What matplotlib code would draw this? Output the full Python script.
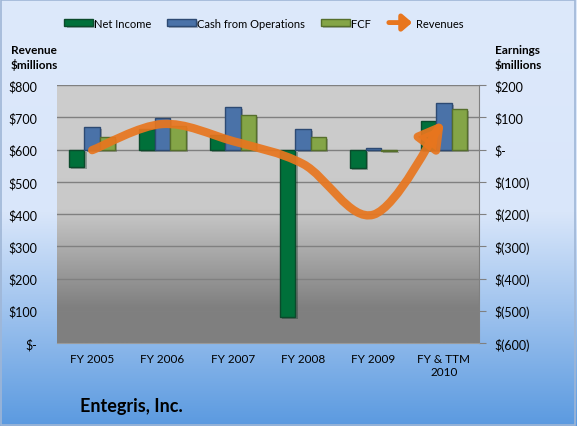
#Entegris, Inc. - earnings bars and revenue line, Excel style chart

import numpy as np
import matplotlib
matplotlib.use('Agg')
import matplotlib.pyplot as plt
import matplotlib.patheffects as pe
from matplotlib.colors import LinearSegmentedColormap
from matplotlib.patches import FancyArrowPatch, Rectangle
from matplotlib.path import Path
from matplotlib.legend_handler import HandlerBase

plt.rcParams['font.family'] = ['Lato', 'DejaVu Sans']

#Data ($ millions)

years = ['FY 2005', 'FY 2006', 'FY 2007', 'FY 2008', 'FY 2009', 'FY & TTM\n2010']
net_income = [-53, 64, 46, -518, -56, 87]
cash_ops = [69, 98, 133, 63, 4, 143]
fcf = [38, 72, 108, 38, -5, 127]
revenues = [598, 679, 626, 555, 398, 688]

rev_ticks = [0, 100, 200, 300, 400, 500, 600, 700, 800]
rev_labels = ['$-', '$100', '$200', '$300', '$400', '$500', '$600', '$700', '$800']
earn_ticks = [-600, -500, -400, -300, -200, -100, 0, 100, 200]
earn_labels = ['$(600)', '$(500)', '$(400)', '$(300)', '$(200)', '$(100)', '$-', '$100', '$200']

green = '#00703a'
blue = '#4a72a8'
olive = '#84a547'
orange = '#e8761e'

fig = plt.figure(figsize=(5.77, 4.27), dpi=100)

#figure background gradient (pale blue -> blue)
bg = fig.add_axes([0, 0, 1, 1], zorder=-10)
bg_cmap = LinearSegmentedColormap.from_list(
    'bg', [(0, '#dde9fb'), (0.5, '#d9e6fa'), (1.0, '#5b9ae0')])
bg.imshow(np.linspace(0, 1, 256).reshape(-1, 1), cmap=bg_cmap, aspect='auto',
          extent=[0, 1, 0, 1])
bg.add_patch(Rectangle((0.002, 0.003), 0.995, 0.994, fill=False,
                       edgecolor='#9fb6d6', lw=1.2))
bg.set_xlim(0, 1)
bg.set_ylim(0, 1)
bg.axis('off')

#bars on the earnings axis (right)
ax = fig.add_axes([57/577, 1-344/427, (479-57)/577, (344-86)/427])
ax.patch.set_visible(False)
plot_cmap = LinearSegmentedColormap.from_list(
    'plot', [(0, '#cdcdcd'), (0.48, '#c9c9c9'), (0.86, '#808080'), (1.0, '#7f7f7f')])
ax.imshow(np.linspace(0, 1, 256).reshape(-1, 1), cmap=plot_cmap, aspect='auto',
          extent=[0, 1, 0, 1], transform=ax.transAxes, zorder=0)

x = np.arange(len(years))
w = 0.22
shadow = [pe.SimplePatchShadow(offset=(1.5, -1.5), alpha=0.3), pe.Normal()]
b1 = ax.bar(x - w, net_income, w, color=green, edgecolor='#0b4a2b', lw=1,
            label='Net Income', zorder=3, path_effects=shadow)
b2 = ax.bar(x, cash_ops, w, color=blue, edgecolor='#2d4a73', lw=1,
            label='Cash from Operations', zorder=3, path_effects=shadow)
b3 = ax.bar(x + w, fcf, w, color=olive, edgecolor='#566f2c', lw=1,
            label='FCF', zorder=3, path_effects=shadow)

ax.set_xlim(-0.5, len(years) - 0.5)
ax.set_ylim(-600, 200)
ax.set_xticks(x)
ax.set_xticklabels(years)
ax.tick_params(axis='x', length=0, pad=7, labelsize=8.5)
ax.grid(axis='y', color='#808080', lw=1, zorder=1)
ax.set_axisbelow(True)

#revenue line on the left axis, smoothed like Excel with an arrow at the end
ax2 = ax.twinx()
ax2.set_ylim(0, 800)
ax2.set_xlim(ax.get_xlim())
ax2.yaxis.tick_left()
ax2.set_yticks(rev_ticks)
ax2.set_yticklabels(rev_labels)
ax2.tick_params(axis='y', length=0, pad=14, labelsize=9)
for s in ax2.spines.values():
    s.set_visible(False)

#earnings ticks on the right (after twinx, which resets them)
ax.yaxis.tick_right()
ax.set_yticks(earn_ticks)
ax.set_yticklabels(earn_labels)
ax.tick_params(axis='y', which='both', left=False, labelleft=False, right=True,
               labelright=True, length=5, color='#808080', pad=6, labelsize=9)
for s in ['top', 'left']:
    ax.spines[s].set_visible(False)
ax.spines['right'].set_visible(True)
ax.spines['right'].set_color('#808080')
ax.spines['bottom'].set_color('#9a9a9a')

pts = np.column_stack([x, revenues]).astype(float)
ext = np.vstack([pts[0], pts, pts[-1]])
verts = [tuple(pts[0])]
codes = [Path.MOVETO]
for i in range(len(pts) - 1):
    p0, p1, p2, p3 = ext[i], ext[i+1], ext[i+2], ext[i+3]
    verts += [tuple(p1 + (p2 - p0) / 6), tuple(p2 - (p3 - p1) / 6), tuple(p2)]
    codes += [Path.CURVE4] * 3
rev_arrow = FancyArrowPatch(path=Path(verts, codes),
                            arrowstyle='-|>,head_length=1.3,head_width=0.75',
                            mutation_scale=11, lw=6, color=orange, alpha=0.92,
                            capstyle='round', joinstyle='round', zorder=5)
ax2.add_artist(rev_arrow)


class ArrowHandler(HandlerBase):
    def create_artists(self, legend, orig_handle, xdescent, ydescent,
                       width, height, fontsize, trans):
        a = FancyArrowPatch((-xdescent, height/2 - ydescent),
                            (width - xdescent, height/2 - ydescent),
                            arrowstyle='-|>,head_length=0.7,head_width=0.6',
                            mutation_scale=fontsize, lw=3.5, color=orange,
                            transform=trans)
        return [a]


fig.legend([b1, b2, b3, rev_arrow], ['Net Income', 'Cash from Operations', 'FCF', 'Revenues'],
           loc='center', bbox_to_anchor=(264/577, 1-24/427), ncol=4, frameon=False,
           fontsize=8, handlelength=2.6, handleheight=0.55, handletextpad=0.1,
           columnspacing=1.4, handler_map={FancyArrowPatch: ArrowHandler()})

fig.text(34/577, 1-58/427, 'Revenue\n$millions', ha='center', va='center',
         fontsize=8.5, fontweight='bold', linespacing=1.3)
fig.text(518/577, 1-58/427, 'Earnings\n$millions', ha='center', va='center',
         fontsize=8.5, fontweight='bold', linespacing=1.3)
fig.text(80/577, 1-407/427, 'Entegris, Inc.', ha='left', va='center',
         fontsize=13, fontweight='bold')

plt.savefig('out.png', dpi=100)
